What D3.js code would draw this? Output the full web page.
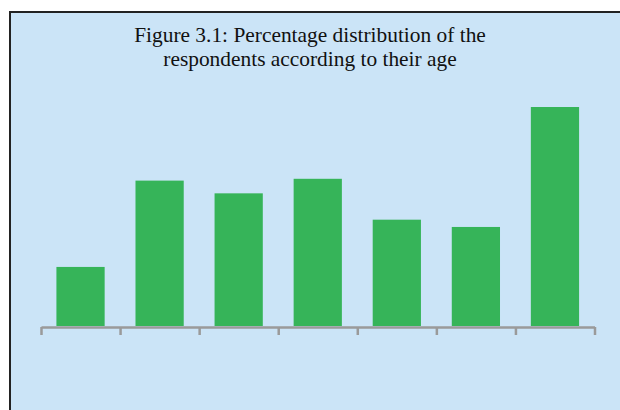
<!DOCTYPE html>
<html>
<head>
<meta charset="utf-8">
<script src="https://cdn.jsdelivr.net/npm/d3@7"></script>
<style>
  html, body { margin: 0; padding: 0; background: #ffffff; }
  svg { display: block; }
</style>
</head>
<body>
<svg id="chart" width="620" height="410"></svg>
<script>
// Age groups of the respondents and their share (%)
const categories = ["Group 1", "Group 2", "Group 3", "Group 4", "Group 5", "Group 6", "Group 7"];
const percentages = [6.5, 16.0, 14.6, 16.2, 11.7, 10.9, 24.1];
const titleLines = [
  "Figure 3.1: Percentage distribution of the",
  "respondents according to their age"
];

const svg = d3.select("#chart");
const W = 620, H = 410;

// Panel background with a dark frame on the left and top edges
svg.append("rect")
  .attr("x", 10).attr("y", 12)
  .attr("width", W - 10).attr("height", H - 12)
  .attr("fill", "#cbe4f7");
svg.append("path")
  .attr("d", `M10,${H}V12H${W}`)
  .attr("fill", "none")
  .attr("stroke", "#222")
  .attr("stroke-width", 2);

// Title
svg.append("g")
  .selectAll("text")
  .data(titleLines)
  .join("text")
  .attr("x", 310)
  .attr("y", (d, i) => 42 + i * 24)
  .attr("text-anchor", "middle")
  .attr("font-family", "'Liberation Serif', 'Times New Roman', serif")
  .attr("font-size", 21.4)
  .attr("fill", "#111")
  .text(d => d);

const x0 = 41, x1 = 594.5, baseY = 327;

// Bars: paddingOuter = paddingInner / 2 keeps each step aligned with the axis ticks
const x = d3.scaleBand()
  .domain(categories)
  .range([x0, x1])
  .paddingInner(0.39)
  .paddingOuter(0.195);

const y = d3.scaleLinear()
  .domain([0, 30])
  .range([baseY - 1, baseY - 1 - 272.6]);

svg.append("g")
  .selectAll("rect")
  .data(percentages)
  .join("rect")
  .attr("x", (d, i) => x(categories[i]))
  .attr("y", d => y(d))
  .attr("width", x.bandwidth())
  .attr("height", d => y(0) - y(d))
  .attr("fill", "#36b459");

// Category axis with ticks at the band boundaries, no labels
const edge = d3.scaleLinear().domain([0, categories.length]).range([x0, x1]);
const axis = svg.append("g")
  .attr("transform", `translate(0,${baseY})`)
  .call(d3.axisBottom(edge)
    .tickValues(d3.range(categories.length + 1))
    .tickFormat("")
    .tickSize(8)
    .tickSizeOuter(0));
axis.select(".domain").attr("stroke", "#9a9a9a").attr("stroke-width", 2.5);
axis.selectAll(".tick line").attr("stroke", "#9a9a9a").attr("stroke-width", 2.5);
</script>
</body>
</html>
